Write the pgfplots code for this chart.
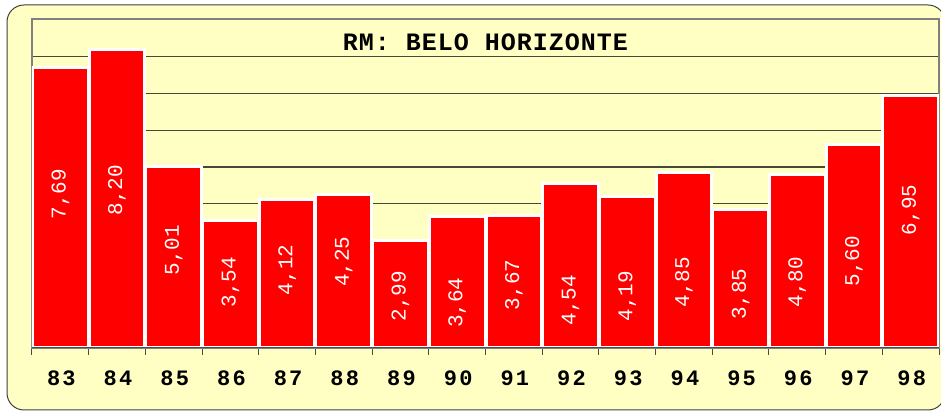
\documentclass[border=0pt]{standalone}
\usepackage{fontspec}
\setmonofont{Liberation Mono}
\usepackage{pgfplots}
\pgfplotsset{compat=1.18}
\usepackage{pgfplotstable}
\definecolor{bgyellow}{RGB}{255,255,196}
\definecolor{gridc}{RGB}{72,72,56}
\pgfplotstableread{
x val ly
0 7.69 4.29
1 8.20 4.40
2 5.01 2.77
3 3.54 1.90
4 4.12 2.23
5 4.25 2.45
6 2.99 1.52
7 3.64 1.34
8 3.67 1.82
9 4.54 1.41
10 4.19 1.52
11 4.85 1.90
12 3.85 1.58
13 4.80 1.90
14 5.60 2.47
15 6.95 3.86
}\datatable
\begin{document}
\begin{tikzpicture}[x=1pt,y=1pt]
\useasboundingbox (0,0) rectangle (941,414);
\filldraw[fill=bgyellow, draw=black!75, line width=1pt, rounded corners=17pt] (7,4) rectangle (945,409);
\begin{axis}[
  at={(32pt,66pt)}, anchor=south west, scale only axis,
  width=907pt, height=329pt,
  xmin=-0.5, xmax=15.5, ymin=0.08, ymax=9.02,
  axis line style={draw=black!50, line width=1.5pt},
  ymajorgrids, grid style={gridc, line width=1.2pt},
  ytick={1,...,8}, yticklabels={},
  tick align=outside, major tick length=0pt, minor tick length=7pt,
  xtick={0,...,15},
  xticklabels={83,84,85,86,87,88,89,90,91,92,93,94,95,96,97,98},
  minor xtick={-0.5,0.5,...,15.5},
  xtick pos=bottom,
  minor x tick style={draw=black!70, line width=1pt},
  xticklabel style={font=\ttfamily\bfseries\fontsize{22}{22}\selectfont\addfontfeature{LetterSpace=10}, yshift=-19pt, xshift=1pt},
  title={RM: BELO HORIZONTE},
  title style={at={(0.5,0.925)}, anchor=center, yshift=-5pt, font=\ttfamily\bfseries\fontsize{25}{25}\selectfont\addfontfeature{LetterSpace=4}},
  /pgf/number format/fixed,
  /pgf/number format/fixed zerofill,
  /pgf/number format/precision=2,
  /pgf/number format/use comma,
  /pgf/number format/assume math mode=true,
  after end axis/.code={\draw[black!70, line width=1pt] (rel axis cs:0,0) -- (rel axis cs:1,0);},
]
\addplot[ybar, bar width=55.7pt, fill=red, draw=white, line width=3pt] table[x=x, y=val] {\datatable};
\addplot[only marks, mark=*, mark size=0pt, point meta=explicit,
  nodes near coords,
  nodes near coords style={rotate=90, anchor=center, text=white, xshift=-1pt, font=\ttfamily\fontsize{21}{21}\selectfont}]
  table[x=x, y=ly, meta=val] {\datatable};
\end{axis}
\end{tikzpicture}
\end{document}
